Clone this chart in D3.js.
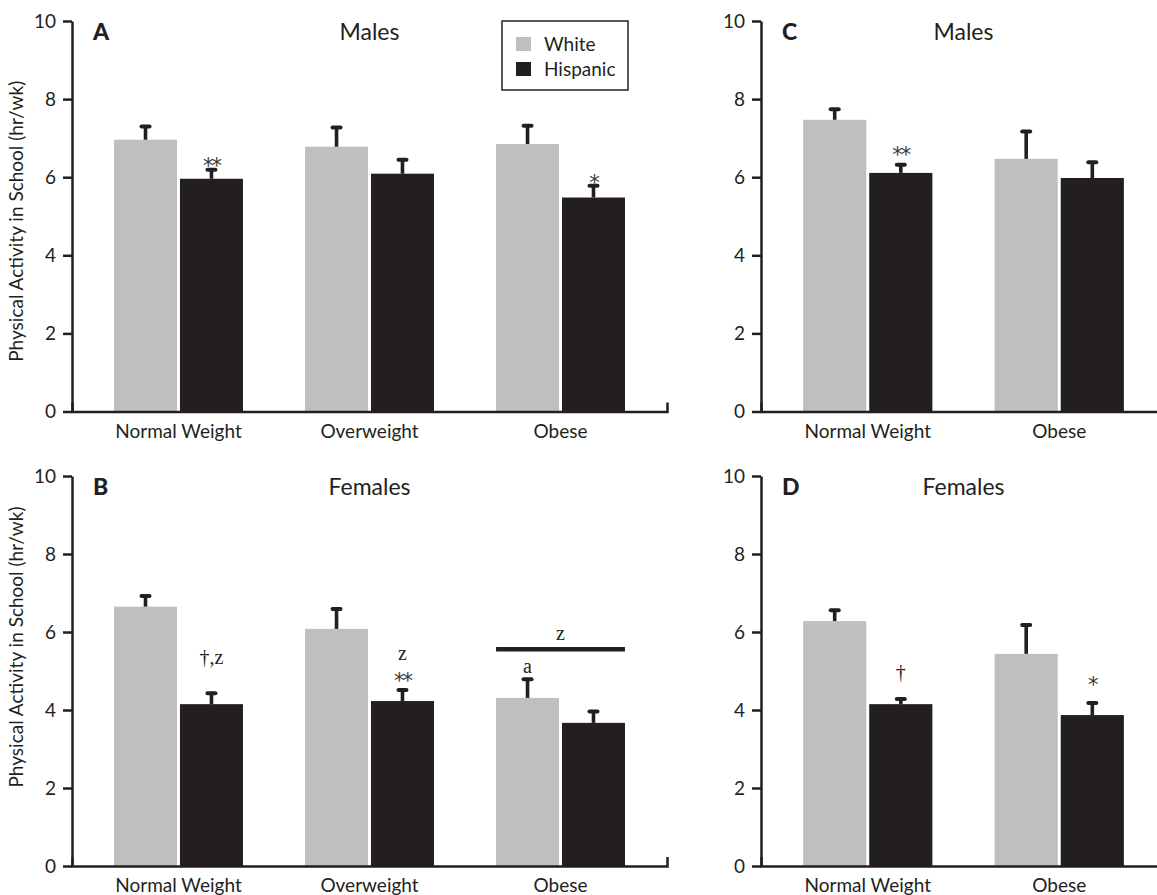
<!DOCTYPE html>
<html>
<head>
<meta charset="utf-8">
<script src="https://cdn.jsdelivr.net/npm/d3@7"></script>
<style>
  html, body { margin: 0; padding: 0; background: #fff; }
  svg { display: block; font-family: Lato, "Open Sans", sans-serif; }
</style>
</head>
<body>
<svg id="chart" width="1157" height="895"></svg>
<script>
// ---- data -------------------------------------------------------------
const weightCats3 = ["Normal Weight", "Overweight", "Obese"];
const weightCats2 = ["Normal Weight", "Obese"];
const seriesNames = ["White", "Hispanic"];
const yTicks = [0, 2, 4, 6, 8, 10];

// A: males, three weight groups (mean, SE) in hr/wk
const aWhite = [6.96, 6.78, 6.85];
const aWhiteSE = [0.34, 0.49, 0.47];
const aHisp = [5.96, 6.09, 5.48];
const aHispSE = [0.23, 0.36, 0.30];

// B: females, three weight groups
const bWhite = [6.65, 6.08, 4.31];
const bWhiteSE = [0.27, 0.51, 0.48];
const bHisp = [4.15, 4.23, 3.67];
const bHispSE = [0.28, 0.28, 0.29];

// C: males, two weight groups
const cWhite = [7.47, 6.47];
const cWhiteSE = [0.27, 0.70];
const cHisp = [6.11, 5.98];
const cHispSE = [0.21, 0.40];

// D: females, two weight groups
const dWhite = [6.28, 5.44];
const dWhiteSE = [0.28, 0.74];
const dHisp = [4.15, 3.87];
const dHispSE = [0.13, 0.31];

// significance marks: panel, category, series, text, level (hr/wk)
const marks = [
  { panel: "A", cat: "Normal Weight", series: "Hispanic", text: "**", level: 6.5 },
  { panel: "A", cat: "Obese", series: "Hispanic", text: "*", level: 6.06 },
  { panel: "C", cat: "Normal Weight", series: "Hispanic", text: "**", level: 6.78 },
  { panel: "B", cat: "Normal Weight", series: "Hispanic", text: "†,z", level: 5.36 },
  { panel: "B", cat: "Overweight", series: "Hispanic", text: "z", level: 5.46 },
  { panel: "B", cat: "Overweight", series: "Hispanic", text: "**", level: 4.95 },
  { panel: "B", cat: "Obese", series: "White", text: "a", level: 5.13 },
  { panel: "D", cat: "Normal Weight", series: "Hispanic", text: "†", level: 4.97 },
  { panel: "D", cat: "Obese", series: "Hispanic", text: "*", level: 4.85 }
];
// bracket spanning a whole group, with its label
const brackets = [
  { panel: "B", cat: "Obese", text: "z", level: 5.56, labelLevel: 5.97 }
];

// ---- layout -----------------------------------------------------------
const INK = "#231f20";
const colors = { White: "#bebfc1", Hispanic: "#231f20" };

const panels = [
  { id: "A", title: "Males", cats: weightCats3, x: [72, 667], y: [411.5, 21], yTitleShift: 5,
    white: aWhite, whiteSE: aWhiteSE, hisp: aHisp, hispSE: aHispSE, legend: true },
  { id: "B", title: "Females", cats: weightCats3, x: [72, 667], y: [866, 476], yTitleShift: -24,
    white: bWhite, whiteSE: bWhiteSE, hisp: bHisp, hispSE: bHispSE },
  { id: "C", title: "Males", cats: weightCats2, x: [761, 1166], y: [411.5, 21],
    white: cWhite, whiteSE: cWhiteSE, hisp: cHisp, hispSE: cHispSE },
  { id: "D", title: "Females", cats: weightCats2, x: [761, 1166], y: [866, 476],
    white: dWhite, whiteSE: dWhiteSE, hisp: dHisp, hispSE: dHispSE }
];

const svg = d3.select("#chart");

panels.forEach(p => {
  const g = svg.append("g").attr("class", "panel-" + p.id);

  const x = d3.scaleBand().domain(p.cats).range(p.x)
    .paddingInner(0.325).paddingOuter(0.22);
  const xs = d3.scaleBand().domain(seriesNames).range([0, x.bandwidth()])
    .paddingInner(0.045);
  const y = d3.scaleLinear().domain([0, 10]).range(p.y);

  const rows = [];
  p.cats.forEach((c, i) => {
    rows.push({ cat: c, series: "White", value: p.white[i], se: p.whiteSE[i] });
    rows.push({ cat: c, series: "Hispanic", value: p.hisp[i], se: p.hispSE[i] });
  });
  const cx = d => x(d.cat) + xs(d.series) + xs.bandwidth() / 2;

  // bars
  g.selectAll("rect.bar").data(rows).join("rect")
    .attr("class", "bar")
    .attr("x", d => x(d.cat) + xs(d.series))
    .attr("width", xs.bandwidth())
    .attr("y", d => y(d.value))
    .attr("height", d => y(0) - y(d.value))
    .attr("fill", d => colors[d.series]);

  // upper error bars
  g.selectAll("line.err").data(rows).join("line")
    .attr("class", "err")
    .attr("x1", cx).attr("x2", cx)
    .attr("y1", d => y(d.value)).attr("y2", d => y(d.value + d.se))
    .attr("stroke", INK).attr("stroke-width", 3.6);
  g.selectAll("line.cap").data(rows).join("line")
    .attr("class", "cap")
    .attr("x1", d => cx(d) - 4).attr("x2", d => cx(d) + 4)
    .attr("y1", d => y(d.value + d.se)).attr("y2", d => y(d.value + d.se))
    .attr("stroke", INK).attr("stroke-width", 4).attr("stroke-linecap", "round");

  // axes
  const yAxis = g.append("g")
    .attr("transform", `translate(${p.x[0]},0)`)
    .call(d3.axisLeft(y).tickValues(yTicks).tickSize(9).tickSizeOuter(0).tickPadding(7));
  const xAxis = g.append("g")
    .attr("transform", `translate(0,${y(0)})`)
    .call(d3.axisBottom(x).tickSize(0).tickSizeOuter(-9).tickPadding(13));
  [yAxis, xAxis].forEach(a => {
    a.selectAll("path.domain, line").attr("stroke", INK).attr("stroke-width", 2.5);
    a.selectAll("text").attr("fill", INK).style("font-family", "Lato, sans-serif");
  });
  yAxis.selectAll("text").style("font-size", "19px");
  xAxis.selectAll("text").style("font-size", "19px");

  // panel letter and title
  g.append("text").attr("x", p.x[0] + 21).attr("y", y(10) + 19)
    .attr("fill", INK).style("font-size", "23px").style("font-weight", 900)
    .text(p.id);
  g.append("text").attr("x", (p.x[0] + p.x[1]) / 2).attr("y", y(10) + 19)
    .attr("text-anchor", "middle").attr("fill", INK).style("font-size", "23px")
    .text(p.title);

  // y-axis title on the left-hand panels
  if (p.yTitleShift !== undefined) {
    g.append("text")
      .attr("transform", `translate(23,${(y(0) + y(10)) / 2 + p.yTitleShift}) rotate(-90)`)
      .attr("text-anchor", "middle").attr("fill", INK).style("font-size", "19px")
      .text("Physical Activity in School (hr/wk)");
  }

  // significance marks
  marks.filter(m => m.panel === p.id).forEach(m => {
    const mx = x(m.cat) + xs(m.series) + xs.bandwidth() / 2;
    const isStar = /^\*+$/.test(m.text);
    g.append("text")
      .attr("x", mx)
      .attr("y", y(m.level))
      .attr("dy", isStar ? "0.72em" : "0.36em")
      .attr("text-anchor", "middle")
      .attr("fill", isStar ? "#3a3738" : INK)
      .style("font-family", isStar ? "'DejaVu Sans', sans-serif" : "'Liberation Serif', serif")
      .style("font-size", isStar ? "21px" : "20px")
      .style("letter-spacing", isStar ? "-2px" : null)
      .text(m.text);
  });

  brackets.filter(b => b.panel === p.id).forEach(b => {
    g.append("line")
      .attr("x1", x(b.cat)).attr("x2", x(b.cat) + x.bandwidth())
      .attr("y1", y(b.level)).attr("y2", y(b.level))
      .attr("stroke", INK).attr("stroke-width", 4.5);
    g.append("text")
      .attr("x", x(b.cat) + x.bandwidth() / 2).attr("y", y(b.labelLevel))
      .attr("dy", "0.36em").attr("text-anchor", "middle").attr("fill", INK)
      .style("font-family", "'Liberation Serif', serif").style("font-size", "20px")
      .text(b.text);
  });

  // legend
  if (p.legend) {
    const lg = g.append("g").attr("transform", "translate(502,21)");
    lg.append("rect").attr("width", 126).attr("height", 69)
      .attr("fill", "#fff").attr("stroke", INK).attr("stroke-width", 1.5);
    seriesNames.forEach((s, i) => {
      lg.append("rect").attr("x", 14).attr("y", 16 + i * 25)
        .attr("width", 15).attr("height", 14).attr("fill", colors[s]);
      lg.append("text").attr("x", 42).attr("y", 30 + i * 25)
        .attr("fill", INK).style("font-size", "19px").text(s);
    });
  }
});
</script>
</body>
</html>
